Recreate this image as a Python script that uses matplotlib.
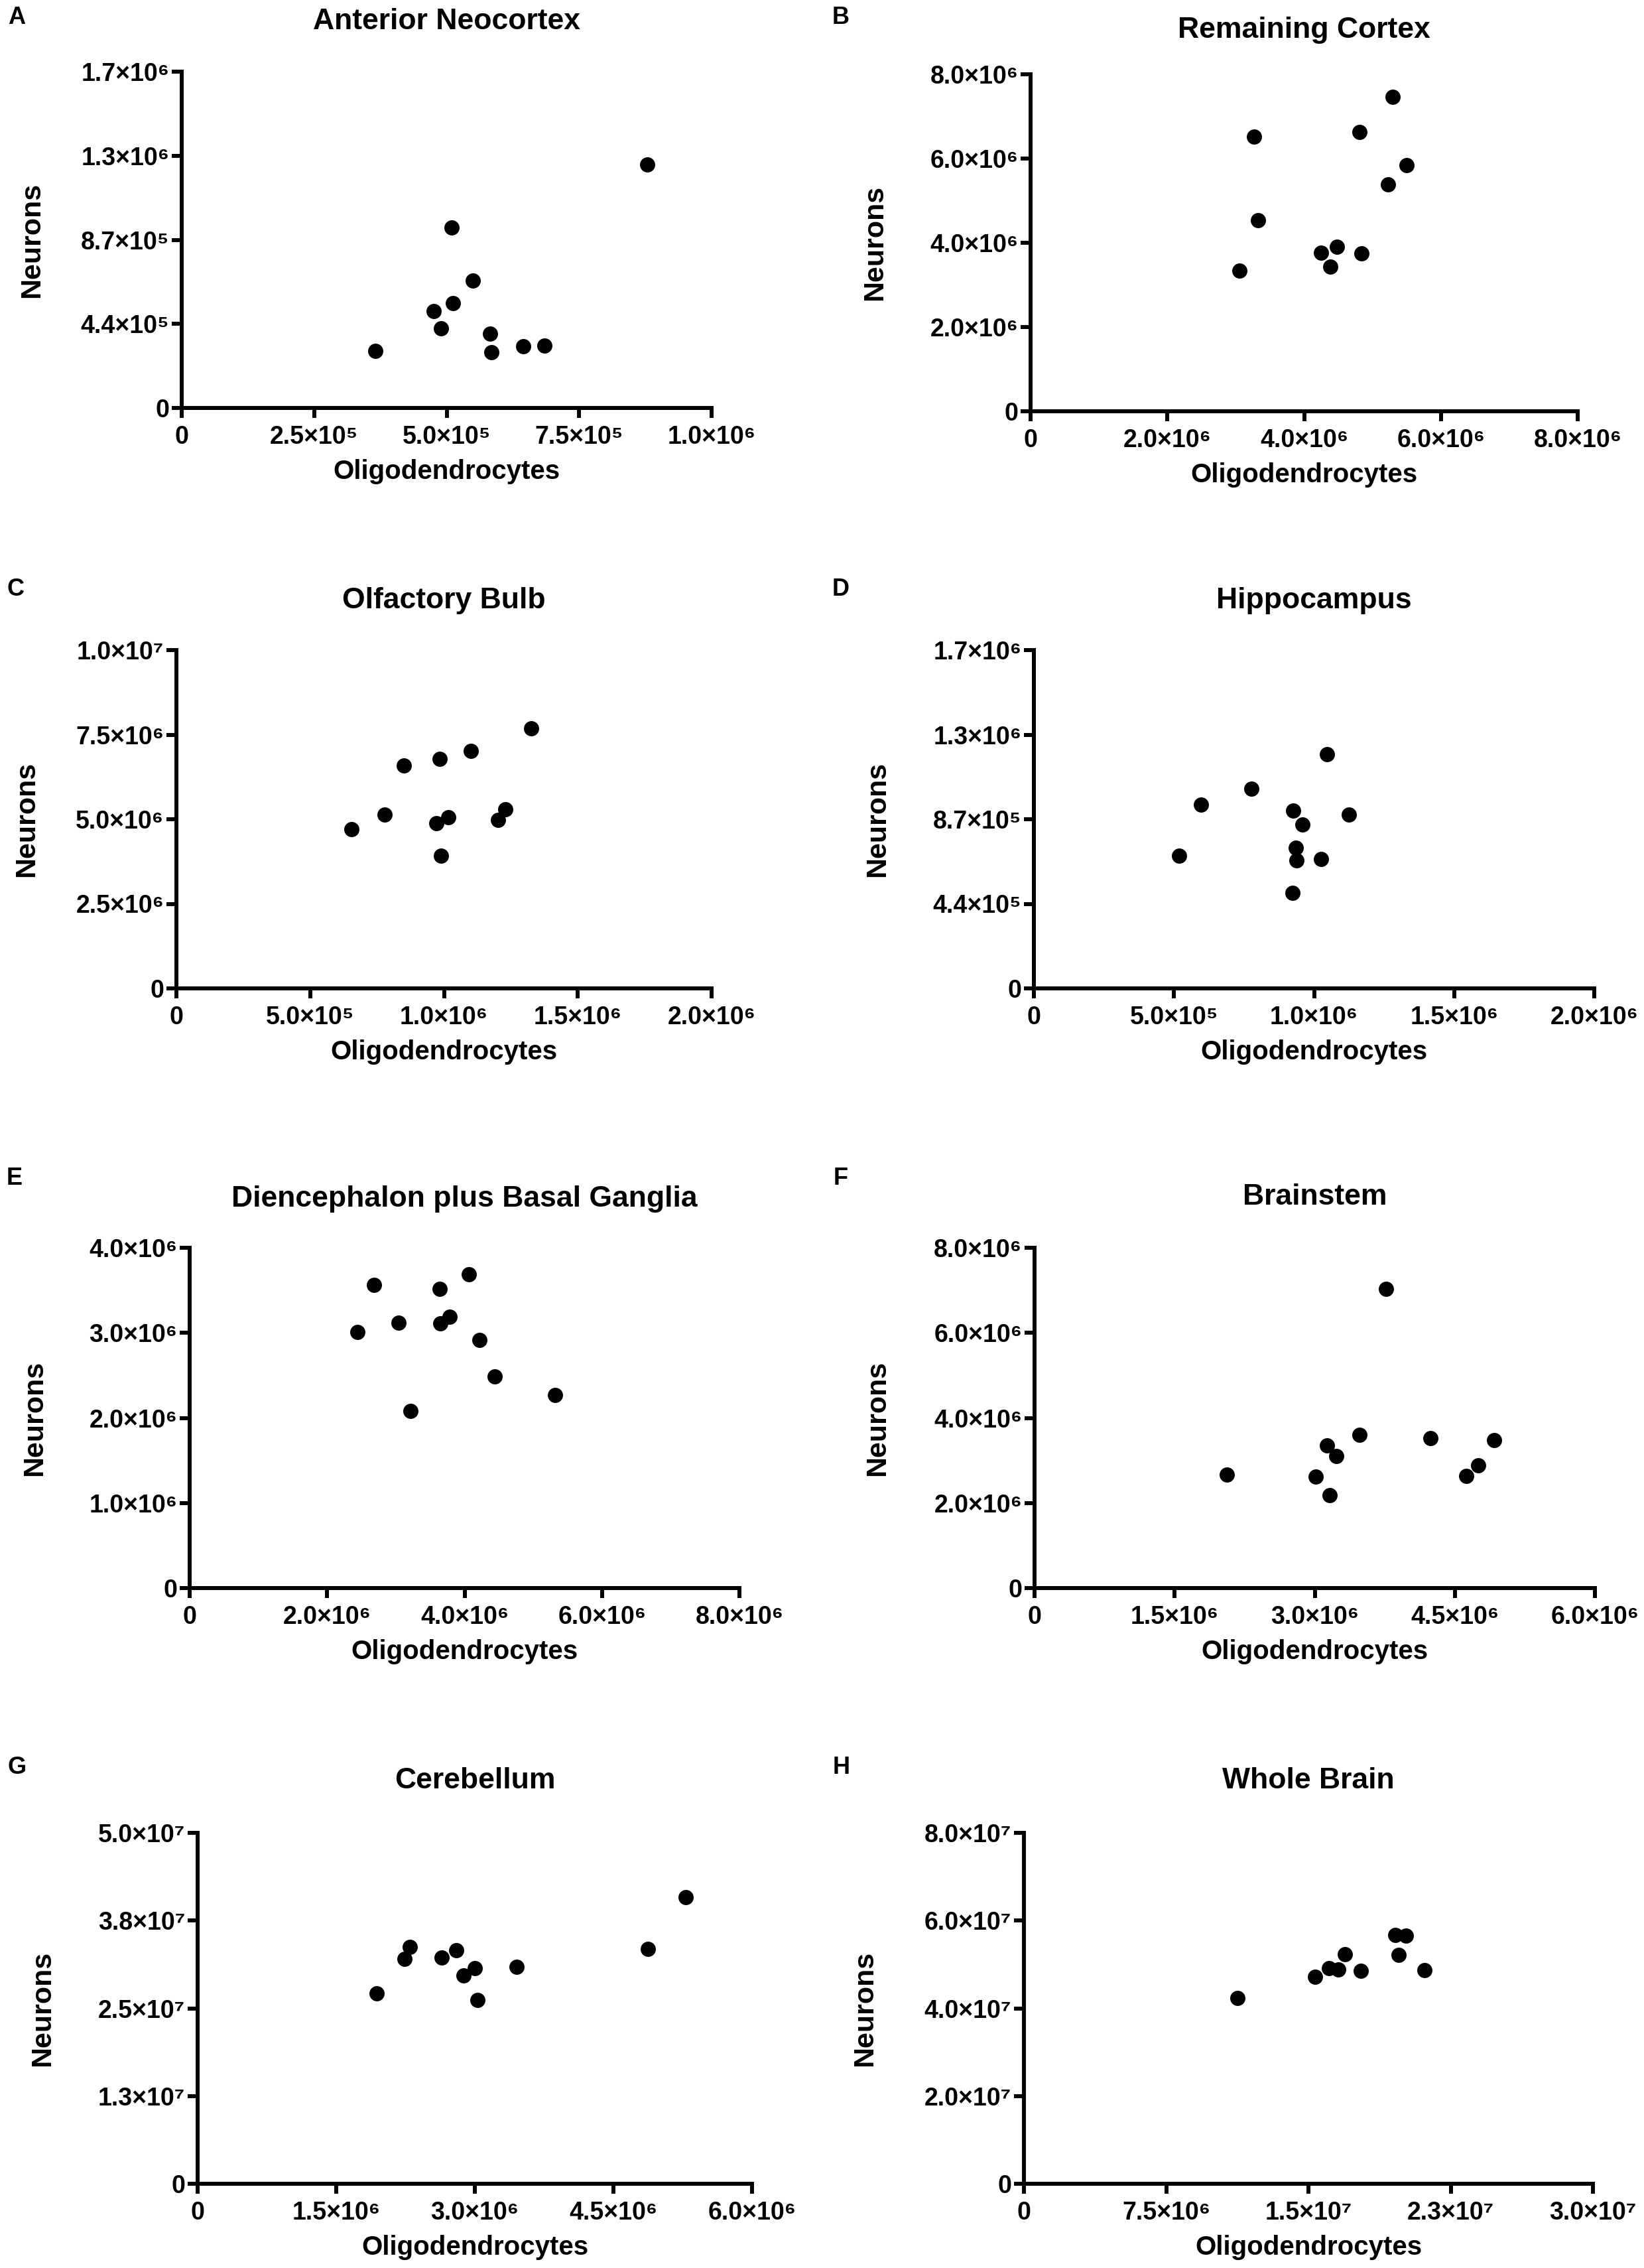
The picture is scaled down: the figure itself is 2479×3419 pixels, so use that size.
import matplotlib
matplotlib.use("Agg")
import matplotlib.pyplot as plt
import numpy as np

# Oligodendrocytes (x) and neurons (y) per animal, one pair of lists per region
anterior_oligo = [3.65e5, 4.75e5, 4.89e5, 5.09e5, 5.12e5, 5.49e5, 5.82e5, 5.84e5, 6.45e5, 6.84e5, 8.79e5]
anterior_neuron = [2.87e5, 4.89e5, 4.04e5, 9.13e5, 5.31e5, 6.45e5, 3.75e5, 2.82e5, 3.13e5, 3.16e5, 1.232e6]

remaining_oligo = [3.05e6, 3.27e6, 3.33e6, 4.25e6, 4.38e6, 4.48e6, 4.81e6, 4.84e6, 5.23e6, 5.29e6, 5.50e6]
remaining_neuron = [3.34e6, 6.52e6, 4.54e6, 3.77e6, 3.44e6, 3.90e6, 6.63e6, 3.75e6, 5.39e6, 7.46e6, 5.84e6]

olfactory_oligo = [6.54e5, 7.78e5, 8.51e5, 9.71e5, 9.85e5, 9.89e5, 1.015e6, 1.100e6, 1.202e6, 1.230e6, 1.326e6]
olfactory_neuron = [4.71e6, 5.13e6, 6.58e6, 4.89e6, 6.78e6, 3.93e6, 5.06e6, 7.02e6, 4.99e6, 5.29e6, 7.69e6]

hippo_oligo = [5.19e5, 5.96e5, 7.76e5, 9.23e5, 9.25e5, 9.34e5, 9.38e5, 9.59e5, 1.026e6, 1.045e6, 1.124e6]
hippo_neuron = [6.67e5, 9.25e5, 1.005e6, 4.80e5, 8.93e5, 7.08e5, 6.45e5, 8.25e5, 6.50e5, 1.178e6, 8.73e5]

dien_oligo = [2.44e6, 2.68e6, 3.04e6, 3.21e6, 3.64e6, 3.65e6, 3.78e6, 4.06e6, 4.22e6, 4.44e6, 5.32e6]
dien_neuron = [3.01e6, 3.56e6, 3.12e6, 2.08e6, 3.52e6, 3.11e6, 3.19e6, 3.69e6, 2.92e6, 2.49e6, 2.27e6]

brainstem_oligo = [2.06e6, 3.01e6, 3.13e6, 3.16e6, 3.23e6, 3.48e6, 3.76e6, 4.24e6, 4.62e6, 4.75e6, 4.92e6]
brainstem_neuron = [2.67e6, 2.62e6, 3.36e6, 2.18e6, 3.11e6, 3.61e6, 7.04e6, 3.52e6, 2.63e6, 2.89e6, 3.47e6]

cereb_oligo = [1.94e6, 2.24e6, 2.30e6, 2.64e6, 2.80e6, 2.88e6, 3.00e6, 3.03e6, 3.45e6, 4.87e6, 5.28e6]
cereb_neuron = [2.71e7, 3.20e7, 3.37e7, 3.22e7, 3.33e7, 2.97e7, 3.07e7, 2.62e7, 3.09e7, 3.35e7, 4.08e7]

whole_oligo = [1.125e7, 1.536e7, 1.608e7, 1.656e7, 1.694e7, 1.775e7, 1.958e7, 1.975e7, 2.014e7, 2.111e7]
whole_neuron = [4.23e7, 4.72e7, 4.92e7, 4.88e7, 5.23e7, 4.86e7, 5.67e7, 5.21e7, 5.66e7, 4.875e7]

titles = ["Anterior Neocortex", "Remaining Cortex", "Olfactory Bulb", "Hippocampus",
          "Diencephalon plus Basal Ganglia", "Brainstem", "Cerebellum", "Whole Brain"]
letters = ["A", "B", "C", "D", "E", "F", "G", "H"]

# axis maxima and tick labels (GraphPad style, 5 ticks each)
x_max = [1.0e6, 8.0e6, 2.0e6, 2.0e6, 8.0e6, 6.0e6, 6.0e6, 3.0e7]
y_max = [1.7e6, 8.0e6, 1.0e7, 1.7e6, 4.0e6, 8.0e6, 5.0e7, 8.0e7]
x_labels = [
    ["0", "2.5×10⁵", "5.0×10⁵", "7.5×10⁵", "1.0×10⁶"],
    ["0", "2.0×10⁶", "4.0×10⁶", "6.0×10⁶", "8.0×10⁶"],
    ["0", "5.0×10⁵", "1.0×10⁶", "1.5×10⁶", "2.0×10⁶"],
    ["0", "5.0×10⁵", "1.0×10⁶", "1.5×10⁶", "2.0×10⁶"],
    ["0", "2.0×10⁶", "4.0×10⁶", "6.0×10⁶", "8.0×10⁶"],
    ["0", "1.5×10⁶", "3.0×10⁶", "4.5×10⁶", "6.0×10⁶"],
    ["0", "1.5×10⁶", "3.0×10⁶", "4.5×10⁶", "6.0×10⁶"],
    ["0", "7.5×10⁶", "1.5×10⁷", "2.3×10⁷", "3.0×10⁷"],
]
y_labels = [
    ["0", "4.4×10⁵", "8.7×10⁵", "1.3×10⁶", "1.7×10⁶"],
    ["0", "2.0×10⁶", "4.0×10⁶", "6.0×10⁶", "8.0×10⁶"],
    ["0", "2.5×10⁶", "5.0×10⁶", "7.5×10⁶", "1.0×10⁷"],
    ["0", "4.4×10⁵", "8.7×10⁵", "1.3×10⁶", "1.7×10⁶"],
    ["0", "1.0×10⁶", "2.0×10⁶", "3.0×10⁶", "4.0×10⁶"],
    ["0", "2.0×10⁶", "4.0×10⁶", "6.0×10⁶", "8.0×10⁶"],
    ["0", "1.3×10⁷", "2.5×10⁷", "3.8×10⁷", "5.0×10⁷"],
    ["0", "2.0×10⁷", "4.0×10⁷", "6.0×10⁷", "8.0×10⁷"],
]

xs = [anterior_oligo, remaining_oligo, olfactory_oligo, hippo_oligo,
      dien_oligo, brainstem_oligo, cereb_oligo, whole_oligo]
ys = [anterior_neuron, remaining_neuron, olfactory_neuron, hippo_neuron,
      dien_neuron, brainstem_neuron, cereb_neuron, whole_neuron]

# layout in pixels of the output image: left, top, right, bottom of each plot area
W, H = 2479, 3419
boxes = [(274, 108, 1073, 615), (1554, 112, 2379, 620),
         (266, 980, 1073, 1490), (1559, 980, 2404, 1490),
         (286, 1881, 1115, 2394), (1560, 1881, 2405, 2394),
         (298, 2763, 1134, 3292), (1544, 2763, 2402, 3292)]
title_y = [32, 46, 905, 905, 1808, 1805, 2684, 2684]
letter_xy = [(25, 27), (1268, 27), (24, 888), (1268, 888),
             (22, 1776), (1268, 1776), (26, 2664), (1269, 2664)]
ylabel_x = [48, 1319, 40, 1323, 52, 1323, 64, 1304]

plt.rcParams["font.family"] = ["Liberation Sans", "DejaVu Sans"]
plt.rcParams["font.weight"] = "bold"

fig = plt.figure(figsize=(W / 100, H / 100), dpi=100)
lw = 4.3

for i in range(8):
    l, t, r, b = boxes[i]
    ax = fig.add_axes([l / W, 1 - b / H, (r - l) / W, (b - t) / H])
    ax.plot(xs[i], ys[i], "o", color="black", ms=15.5, clip_on=False)
    ax.set_xlim(0, x_max[i])
    ax.set_ylim(0, y_max[i])
    ax.set_xticks(np.linspace(0, x_max[i], 5))
    ax.set_yticks(np.linspace(0, y_max[i], 5))
    ax.set_xticklabels(x_labels[i])
    ax.set_yticklabels(y_labels[i])
    for side in ["top", "right"]:
        ax.spines[side].set_visible(False)
    for side in ["left", "bottom"]:
        ax.spines[side].set_linewidth(lw)
        ax.spines[side].set_capstyle("projecting")
    ax.tick_params(axis="both", width=lw, length=10.5, labelsize=27, color="black")
    ax.tick_params(axis="x", pad=8)
    ax.tick_params(axis="y", pad=3)
    for lab in ax.get_xticklabels() + ax.get_yticklabels():
        lab.set_fontweight("bold")

    ax.set_xlabel("Oligodendrocytes", fontsize=29, fontweight="bold")
    ax.xaxis.set_label_coords(0.5, -107 / (b - t))
    ax.xaxis.label.set_verticalalignment("baseline")
    ax.set_ylabel("Neurons", fontsize=31, fontweight="bold")
    ax.yaxis.set_label_coords((ylabel_x[i] - l) / (r - l), 0.5)
    ax.yaxis.label.set_verticalalignment("center")

    fig.text((l + r) / 2 / W, 1 - title_y[i] / H, titles[i], fontsize=32,
             fontweight="bold", ha="center", va="center")
    fig.text(letter_xy[i][0] / W, 1 - letter_xy[i][1] / H, letters[i], fontsize=26,
             fontweight="bold", ha="center", va="center")

fig.savefig("out.png", dpi=100, facecolor="white")
